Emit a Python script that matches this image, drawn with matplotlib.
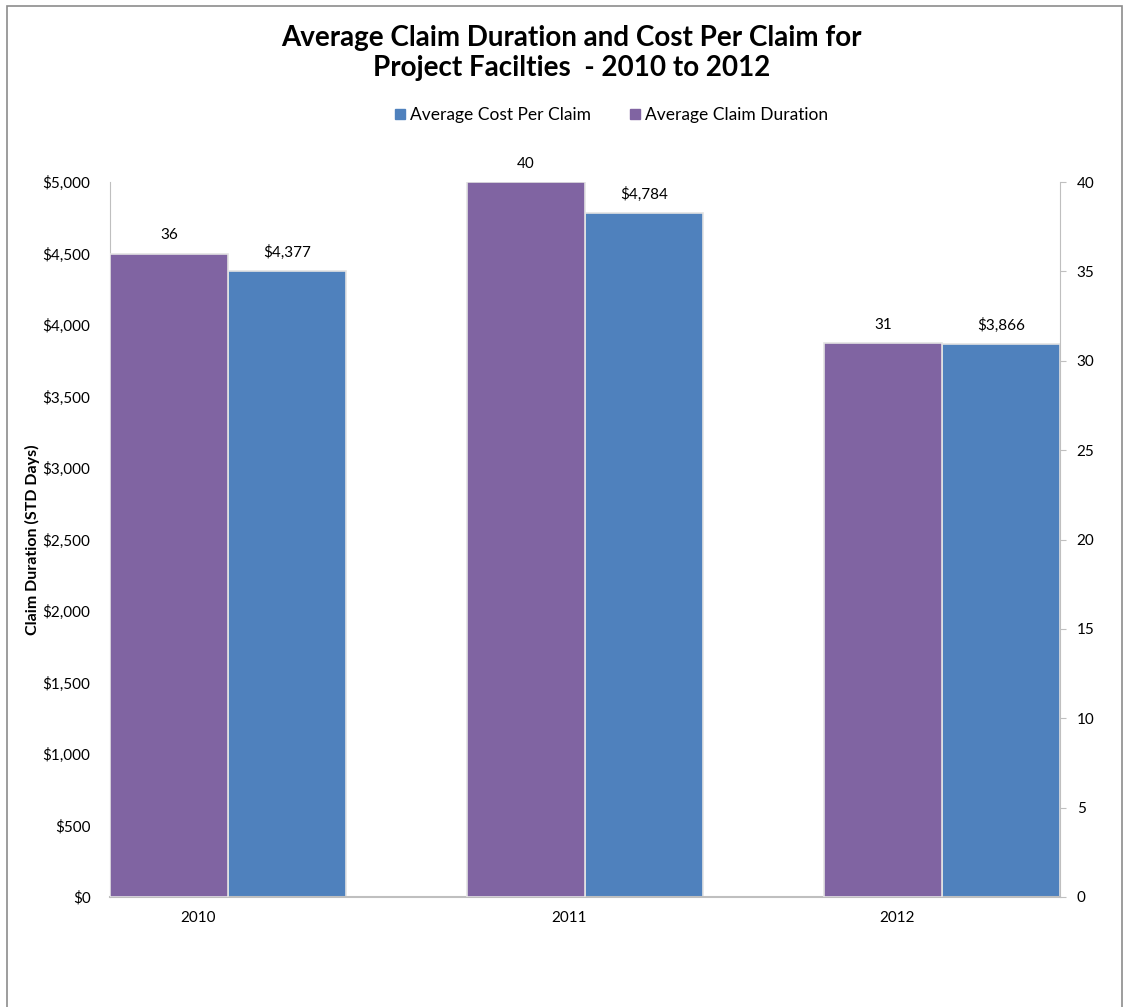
import matplotlib
matplotlib.use("Agg")
import matplotlib.pyplot as plt
from matplotlib.patches import Rectangle
from matplotlib.lines import Line2D

plt.rcParams['font.family'] = ['Lato', 'DejaVu Sans']

years = ["2010", "2011", "2012"]
cost_per_claim = [4377, 4784, 3866]
claim_duration = [36, 40, 31]
cost_labels = ["$4,377", "$4,784", "$3,866"]
duration_labels = ["36", "40", "31"]
cost_ticks = [0, 500, 1000, 1500, 2000, 2500, 3000, 3500, 4000, 4500, 5000]
duration_ticks = [0, 5, 10, 15, 20, 25, 30, 35, 40]

purple = "#8064A2"
blue = "#4F81BD"
grey = "#BFBFBF"

fig = plt.figure(figsize=(11.27, 10.07), dpi=100)
# outer chart border
fig.patches.append(Rectangle((7 / 1127, -0.05), 1115 / 1127, 1.05 - 6 / 1007,
                             transform=fig.transFigure, fill=False,
                             edgecolor="#8C8C8C", linewidth=1.2))

ax = fig.add_axes([110 / 1127, 110 / 1007, 950 / 1127, 715 / 1007])
ax2 = ax.twinx()

w = 0.33
x = list(range(len(years)))
bars_cost = ax.bar([i for i in x], cost_per_claim, width=w, align='edge',
                   color=blue, edgecolor="#E3E3E3", linewidth=1.2, zorder=2)
bars_dur = ax2.bar([i - w for i in x], claim_duration, width=w, align='edge',
                   color=purple, edgecolor="#E3E3E3", linewidth=1.2, zorder=2)

ax.set_xlim(-w, 2 + w)
ax.set_ylim(0, 5000)
ax2.set_ylim(0, 40)

ax.set_yticks(cost_ticks)
ax.set_yticklabels(["${:,}".format(v) for v in cost_ticks], fontsize=11)
ax2.set_yticks(duration_ticks)
ax2.set_yticklabels([str(v) for v in duration_ticks], fontsize=11)

# category labels sit slightly left of the pair boundary
label_shift = [-0.084, -0.044, -0.126]
ax.set_xticks([i + s for i, s in zip(x, label_shift)])
ax.set_xticklabels(years, fontsize=11)

ax.tick_params(axis='x', length=0, pad=10)
ax.tick_params(axis='y', length=0, pad=14)
ax2.tick_params(axis='y', length=4, color=grey, pad=8, direction='out')

for a in (ax, ax2):
    a.spines['top'].set_visible(False)
    a.spines['left'].set_color(grey)
    a.spines['bottom'].set_color(grey)
    a.spines['right'].set_color(grey)
    a.spines['bottom'].set_linewidth(1.5)
ax.spines['right'].set_visible(False)
ax2.spines['left'].set_visible(False)
ax2.spines['bottom'].set_visible(False)

for b, lab in zip(bars_cost, cost_labels):
    ax.annotate(lab, (b.get_x() + b.get_width() / 2, b.get_height()),
                xytext=(0, 8), textcoords='offset points', ha='center',
                va='bottom', fontsize=11)
for b, lab in zip(bars_dur, duration_labels):
    ax2.annotate(lab, (b.get_x() + b.get_width() / 2, b.get_height()),
                 xytext=(0, 8), textcoords='offset points', ha='center',
                 va='bottom', fontsize=11)

ax.set_ylabel("Claim Duration (STD Days)", fontsize=11.5, fontweight='bold',
              labelpad=2)

fig.text(0.507, 1 - 53 / 1007,
         "Average Claim Duration and Cost Per Claim for\nProject Facilties  - 2010 to 2012",
         ha='center', va='center', fontsize=20, fontweight='bold',
         linespacing=1.2)

handles = [Line2D([], [], marker='s', linestyle='', color=blue, markersize=7),
           Line2D([], [], marker='s', linestyle='', color=purple, markersize=7)]
fig.legend(handles, ["Average Cost Per Claim", "Average Claim Duration"],
           loc='center', bbox_to_anchor=(0.541, 1 - 115 / 1007), ncol=2,
           frameon=False, fontsize=12.5, handletextpad=0.1, columnspacing=2.0,
           handlelength=1.0)

fig.savefig("out.png", dpi=100)
